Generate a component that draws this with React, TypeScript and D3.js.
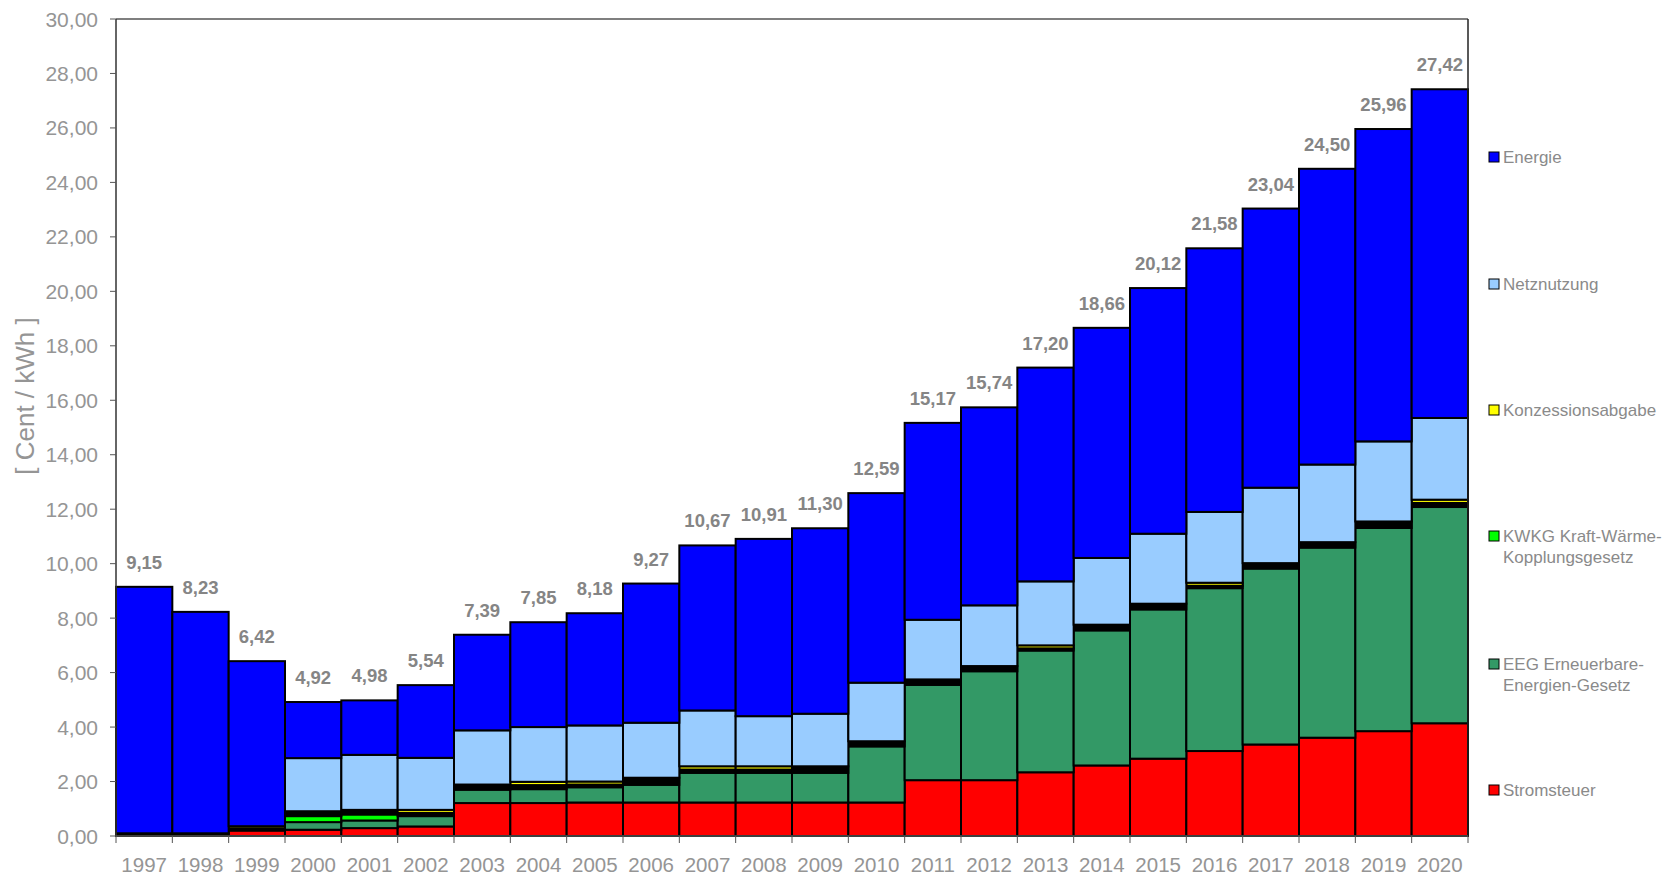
import React from "react";
import * as d3 from "d3";

const years = ["1997","1998","1999","2000","2001","2002","2003","2004","2005","2006","2007","2008","2009","2010","2011","2012","2013","2014","2015","2016","2017","2018","2019","2020"];
const stromsteuer = [0,0,0.20,0.23,0.29,0.35,1.21,1.21,1.23,1.23,1.23,1.23,1.23,1.23,2.05,2.05,2.34,2.59,2.84,3.12,3.36,3.61,3.85,4.14];
const eeg = [0,0,0,0.28,0.28,0.38,0.49,0.51,0.56,0.65,1.09,1.09,1.09,2.06,3.50,4.00,4.47,4.96,5.48,5.98,6.46,6.98,7.46,7.94];
const kwkg = [0,0,0,0.22,0.22,0,0,0,0,0,0,0,0,0,0,0,0,0,0,0,0,0,0,0];
const sonstige = [0.10,0.10,0.08,0.18,0.17,0.12,0.19,0.15,0.10,0.26,0.12,0.12,0.24,0.19,0.20,0.19,0.08,0.21,0.21,0.09,0.20,0.20,0.24,0.15];
const konzession = [0,0,0.08,0,0,0.11,0,0.12,0.11,0,0.12,0.12,0,0,0,0,0.11,0,0,0.11,0,0,0,0.12];
const netznutzung = [0,0,0,1.95,2.02,1.91,1.99,2.01,2.06,2.02,2.05,1.84,1.93,2.15,2.19,2.23,2.35,2.45,2.57,2.60,2.77,2.85,2.94,3.00];
const energie = [9.05,8.13,6.06,2.06,2.00,2.67,3.51,3.85,4.12,5.11,6.06,6.51,6.81,6.96,7.23,7.27,7.85,8.45,9.02,9.68,10.25,10.86,11.47,12.07];
const totals = [9.15,8.23,6.42,4.92,4.98,5.54,7.39,7.85,8.18,9.27,10.67,10.91,11.30,12.59,15.17,15.74,17.20,18.66,20.12,21.58,23.04,24.50,25.96,27.42];
const yTicks = [0,2,4,6,8,10,12,14,16,18,20,22,24,26,28,30];

const seriesKeys = ["strom","eeg","kwkg","sonst","konz","netz","energie"];
const seriesColors: Record<string,string> = {
  strom: "#FF0000", eeg: "#339966", kwkg: "#00FF00", sonst: "#000000",
  konz: "#FFFF00", netz: "#99CCFF", energie: "#0000FF",
};
const legendItems = [
  { key: "energie", lines: ["Energie"] },
  { key: "netz", lines: ["Netznutzung"] },
  { key: "konz", lines: ["Konzessionsabgabe"] },
  { key: "kwkg", lines: ["KWKG Kraft-Wärme-", "Kopplungsgesetz"] },
  { key: "eeg", lines: ["EEG Erneuerbare-", "Energien-Gesetz"] },
  { key: "strom", lines: ["Stromsteuer"] },
];

const W = 1668, H = 877;
const left = 116, right = 1468, top = 19, bottom = 836;

export default function App() {
  const rows = years.map((y, i) => ({
    year: y, strom: stromsteuer[i], eeg: eeg[i], kwkg: kwkg[i], sonst: sonstige[i],
    konz: konzession[i], netz: netznutzung[i], energie: energie[i],
  }));
  const stack = d3.stack<any>().keys(seriesKeys)(rows);
  const x = d3.scaleBand<string>().domain(years).range([left, right]).padding(0);
  const y = d3.scaleLinear().domain([0, 30]).range([bottom, top]);
  const fmt = (v: number) => d3.format(".2f")(v).replace(".", ",");
  const font = "Arial, 'Liberation Sans', sans-serif";
  const legendY = [157, 284, 410, 536, 664, 790];

  return (
    <svg width={W} height={H} style={{ position: "absolute", left: 0, top: 0, background: "#fff" }} fontFamily={font}>
      <rect x={0} y={0} width={W} height={H} fill="#fff" />
      {stack.map((s) => (
        <g key={s.key}>
          {s.map((d, i) => {
            const h = y(d[0]) - y(d[1]);
            if (h <= 0.01) return null;
            return (
              <rect key={i} x={x(years[i])!} y={y(d[1])} width={x.bandwidth()} height={h}
                fill={seriesColors[s.key]} stroke="#000" strokeWidth={2} />
            );
          })}
        </g>
      ))}
      <line x1={left} x2={right} y1={top} y2={top} stroke="#555" strokeWidth={1.5} />
      <line x1={right} x2={right} y1={top} y2={bottom} stroke="#222" strokeWidth={1.5} />
      <line x1={left} x2={left} y1={top} y2={bottom} stroke="#333" strokeWidth={1.5} />
      <line x1={left} x2={right} y1={bottom} y2={bottom} stroke="#555" strokeWidth={1.5} />
      {yTicks.map((t) => (
        <g key={t}>
          <line x1={left - 6} x2={left} y1={y(t)} y2={y(t)} stroke="#555" strokeWidth={1} />
          <text x={98} y={y(t)} dy="0.36em" textAnchor="end" fontSize={21} fill="#959595">{fmt(t)}</text>
        </g>
      ))}
      {[...years.map((yr) => x(yr)!), right].map((px, i) => (
        <line key={i} x1={px} x2={px} y1={bottom} y2={bottom + 7} stroke="#555" strokeWidth={1} />
      ))}
      {years.map((yr) => (
        <text key={yr} x={x(yr)! + x.bandwidth() / 2} y={872} textAnchor="middle" fontSize={20.5} fill="#959595">{yr}</text>
      ))}
      {totals.map((t, i) => (
        <text key={i} x={x(years[i])! + x.bandwidth() / 2} y={y(t) - 18} textAnchor="middle"
          fontSize={18.5} fontWeight="bold" fill="#858585">{fmt(t)}</text>
      ))}
      <text transform={`translate(34,${396}) rotate(-90)`} textAnchor="middle" fontSize={26} fill="#959595">[ Cent / kWh ]</text>
      {legendItems.map((it, i) => (
        <g key={it.key}>
          <rect x={1489} y={legendY[i] - 5} width={10} height={10} fill={seriesColors[it.key]} stroke="#000" strokeWidth={1} />
          {it.lines.map((ln, j) => (
            <text key={j} x={1503} y={legendY[i] + j * 21} dy="0.35em" fontSize={17} fill="#8a8a8a">{ln}</text>
          ))}
        </g>
      ))}
    </svg>
  );
}
